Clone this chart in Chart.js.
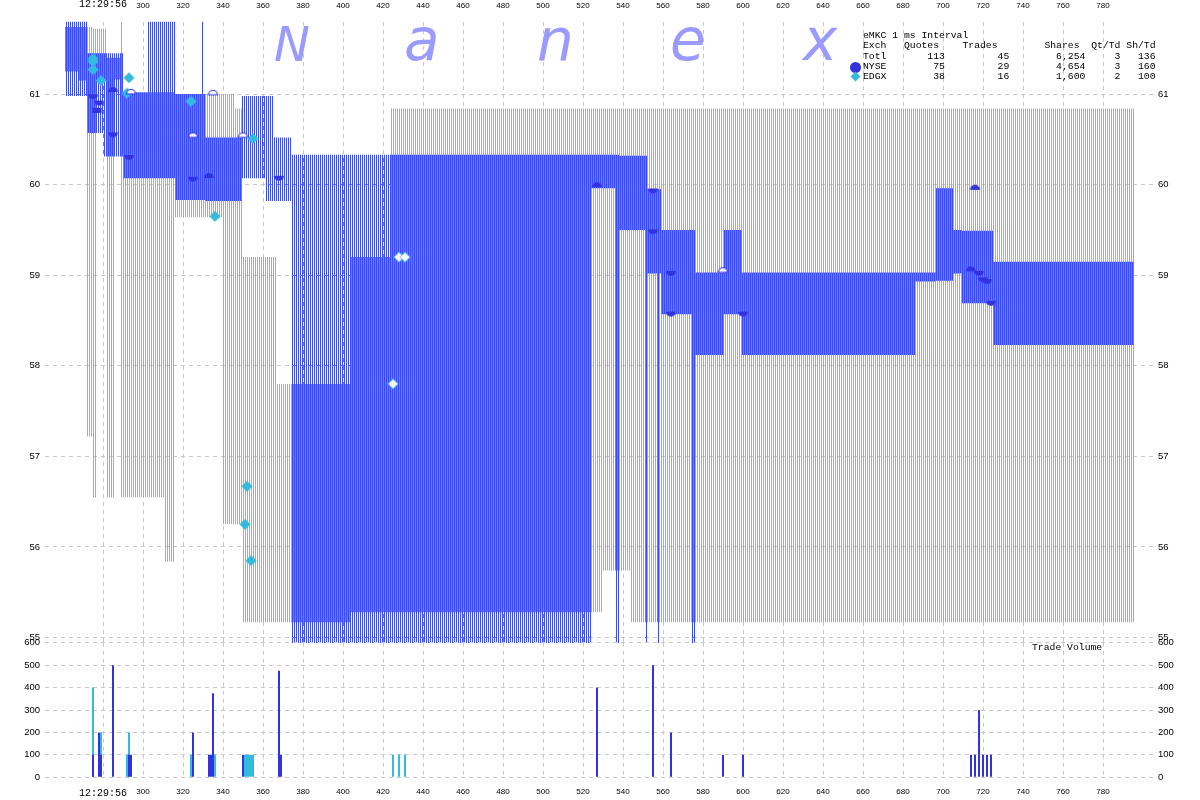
<!DOCTYPE html>
<html lang="en">
<head>
<meta charset="UTF-8">
<title>eMKC 1 ms Interval</title>
<style>
    html, body { margin: 0; padding: 0; background: #fff; }
    #wrap { position: relative; width: 1200px; height: 800px; overflow: hidden; }
    #priceChart { position: absolute; left: 0; top: 0; }
    #volChart { position: absolute; left: 0; top: 630px; }
    .logo { position: absolute; font-family: "DejaVu Sans", sans-serif; font-style: italic; color: #9b9bff; line-height: 1; }
    .mono { position: absolute; font-family: "Liberation Mono", monospace; font-size: 9.75px; line-height: 10.3px; white-space: pre; color: #000; }
    .dot { position: absolute; width: 11px; height: 11px; border-radius: 50%; background: #3333dd; }
    .dia { position: absolute; width: 7px; height: 7px; background: #33bbdd; transform: rotate(45deg); }
</style>
<script src="https://cdn.jsdelivr.net/npm/chart.js@4.4.0/dist/chart.umd.min.js"></script>
</head>
<body>
<div id="wrap">
    <canvas id="priceChart" width="1200" height="650"></canvas>
    <canvas id="volChart" width="1200" height="170"></canvas>

    <!-- watermark -->
    <span class="logo" style="left:274px; top:20px; font-size:48px;">N</span>
    <span class="logo" style="left:404px; top:11px; font-size:58px;">a</span>
    <span class="logo" style="left:537px; top:11px; font-size:58px;">n</span>
    <span class="logo" style="left:670px; top:11px; font-size:58px;">e</span>
    <span class="logo" style="left:803px; top:11px; font-size:58px;">x</span>

    <div class="mono" id="stats" style="left:863px; top:31px;"></div>
    <div class="dot" style="left:850px; top:62px;"></div>
    <div class="dia" style="left:852px; top:73px;"></div>
    <div class="mono" style="left:1032px; top:643px;">Trade Volume</div>
</div>

<script>
    // x axis: ms after 12:29:56
    const xTicks = [280, 300, 320, 340, 360, 380, 400, 420, 440, 460, 480, 500, 520, 540, 560, 580, 600, 620, 640, 660, 680, 700, 720, 740, 760, 780];
    const xFirstLabel = '12:29:56';
    const priceTicks = [55, 56, 57, 58, 59, 60, 61];
    const volTicks = [0, 100, 200, 300, 400, 500, 600];

    // NYSE quote (each value holds until the next time)
    const nyseT   = [261, 272, 280, 290, 302.5, 316, 329.5, 330.5, 331, 349.5, 361.5, 365, 374.5, 524, 536, 538, 551, 552, 557, 558, 559, 574.5, 576, 590.5, 599.5, 686, 696.5, 705, 709.5, 725, 795.5];
    const nyseAsk = [62, 61.45, 61.45, 61.02, 62, 61.0, 62, 61.0, 60.52, 60.98, 60.98, 60.52, 60.33, 60.33, 60.33, 60.32, 60.32, 59.95, 59.95, 59.95, 59.5, 59.5, 59.03, 59.5, 59.03, 59.03, 59.96, 59.5, 59.49, 59.15, 59.15];
    const nyseBid = [60.98, 60.57, 60.31, 60.07, 60.07, 59.83, 59.83, 59.83, 59.82, 60.07, 59.82, 59.82, 54.5, 59.96, 54.5, 59.5, 54.5, 59.02, 54.5, 59.02, 58.57, 54.5, 58.12, 58.57, 58.12, 58.93, 58.94, 59.02, 58.69, 58.23, 58.23];

    // EDGX quote
    const edgxT   = [261, 268, 271.5, 274.5, 276.5, 282, 285.5, 289, 290, 311, 316, 339.5, 346, 350, 367, 403.5, 424, 529.5, 544, 795.5];
    const edgxAsk = [61.74, 61.74, 61.74, 61.72, 61.72, 61.4, 61.4, 62, 61.02, 61.02, 61.0, 61.0, 60.84, 59.2, 57.8, 59.2, 60.84, 60.84, 60.84, 60.84];
    const edgxBid = [61.25, 61.15, 57.22, 56.55, 61.15, 56.55, 61.16, 56.55, 56.55, 55.84, 59.64, 56.25, 56.25, 55.17, 55.17, 55.28, 55.28, 55.74, 55.17, 55.17];

    // trades: b = at bid, d = at ask, o = open marker
    const nyseTradeT    = [275, 278, 277, 277, 285, 285, 293, 294, 325, 325, 333, 335, 350, 368, 527, 555, 555, 564, 564, 590, 600, 714, 716, 718, 720, 722, 724];
    const nyseTradeP    = [60.97, 60.90, 60.82, 60.82, 61.05, 60.55, 60.30, 61.03, 60.06, 60.55, 60.10, 61.02, 60.55, 60.07, 60.00, 59.93, 59.48, 59.02, 58.57, 59.06, 58.57, 59.07, 59.97, 59.02, 58.95, 58.93, 58.69];
    const nyseTradeKind = ['b', 'b', 'b', 'd', 'd', 'b', 'b', 'o', 'b', 'o', 'd', 'o', 'o', 'b', 'd', 'b', 'b', 'b', 'b', 'o', 'b', 'd', 'd', 'b', 'b', 'b', 'b'];
    const edgxTradeT    = [275, 275, 275, 279, 292, 293, 324, 336, 351, 352, 354, 355, 425, 428, 431];
    const edgxTradeP    = [61.39, 61.36, 61.27, 61.15, 61.01, 61.18, 60.92, 59.65, 56.25, 56.67, 55.85, 60.51, 57.80, 59.20, 59.20];
    const edgxTradeKind = ['c', 'c', 'c', 'c', 'c', 'c', 'c', 'c', 'c', 'c', 'c', 'c', 'w', 'w', 'w'];

    // trade volume per ms
    const nyseVolT = [275, 278, 279, 285, 293, 294, 325, 333, 334, 335, 350, 368, 369, 527, 555, 564, 590, 600, 714, 716, 718, 720, 722, 724];
    const nyseVol  = [100, 200, 100, 500, 100, 100, 200, 100, 100, 375, 100, 475, 100, 400, 500, 200, 100, 100, 100, 100, 300, 100, 100, 100];
    const edgxVolT = [275, 279, 292, 293, 324, 336, 351, 352, 353, 354, 355, 425, 428, 431];
    const edgxVol  = [400, 200, 100, 200, 100, 100, 100, 100, 100, 100, 100, 100, 100, 100];

    // stats box
    const exchNames   = ['Totl', 'NYSE', 'EDGX'];
    const quoteCounts = [113, 75, 38];
    const tradeCounts = [45, 29, 16];
    const shareCounts = [6254, 4654, 1600];
    const qtPerTd     = [3, 3, 2];
    const shPerTd     = [136, 160, 100];

    let rows = ['eMKC 1 ms Interval',
        'Exch' + 'Quotes'.padStart(9) + 'Trades'.padStart(10) + 'Shares'.padStart(14) + 'Qt/Td'.padStart(7) + 'Sh/Td'.padStart(6)];
    exchNames.forEach((n, i) => {
        rows.push(n.padEnd(4) + String(quoteCounts[i]).padStart(10) + String(tradeCounts[i]).padStart(11) +
            shareCounts[i].toLocaleString('en-US').padStart(13) + String(qtPerTd[i]).padStart(6) + String(shPerTd[i]).padStart(6));
    });
    document.getElementById('stats').textContent = rows.join('\n');

    const NYSE_QUOTE = '#3a4bff';
    const NYSE_MIX = '#4a8cff';
    const EDGX_QUOTE = '#5ec6e6';
    const NYSE_TRADE = '#3333dd';
    const EDGX_TRADE = '#33bbdd';

    const priceCanvas = document.getElementById('priceChart');
    const pctx = priceCanvas.getContext('2d');

    // 1px vertical stripes every 2px, one column per exchange
    function stripes(color, column) {
        const tile = document.createElement('canvas');
        tile.width = 2; tile.height = 1;
        const g = tile.getContext('2d');
        g.fillStyle = color;
        g.fillRect(column, 0, 1, 1);
        return pctx.createPattern(tile, 'repeat');
    }

    function markerImg(draw) {
        const c = document.createElement('canvas');
        c.width = 13; c.height = 13;
        draw(c.getContext('2d'));
        return c;
    }
    const bowl = markerImg(g => {
        g.fillStyle = NYSE_TRADE; g.beginPath(); g.arc(6.5, 4, 5, 0, Math.PI); g.closePath(); g.fill();
    });
    const dome = markerImg(g => {
        g.fillStyle = NYSE_TRADE; g.beginPath(); g.arc(6.5, 9, 5, Math.PI, 2 * Math.PI); g.closePath(); g.fill();
    });
    const openDome = markerImg(g => {
        g.fillStyle = '#fff'; g.strokeStyle = NYSE_TRADE; g.lineWidth = 1.2;
        g.beginPath(); g.arc(6.5, 9, 4.5, Math.PI, 2 * Math.PI); g.closePath(); g.fill(); g.stroke();
    });
    function diamond(fill) {
        return markerImg(g => {
            g.fillStyle = fill; g.strokeStyle = EDGX_TRADE; g.lineWidth = 1;
            g.beginPath(); g.moveTo(6.5, 1.5); g.lineTo(11.5, 6.5); g.lineTo(6.5, 11.5); g.lineTo(1.5, 6.5); g.closePath();
            g.fill(); g.stroke();
        });
    }
    const cyanDiamond = diamond(EDGX_TRADE);
    const whiteDiamond = diamond('#fff');

    const pts = (ts, vs) => ts.map((t, i) => ({ x: t, y: vs[i] }));
    const pick = (ts, ps, kinds, k) => ts.map((t, i) => ({ x: t, y: ps[i], k: kinds[i] })).filter(p => p.k === k);

    const quoteLine = { stepped: true, borderWidth: 0, borderColor: 'rgba(0,0,0,0)', pointRadius: 0, pointHoverRadius: 0 };
    const tradePoints = { showLine: false, pointRadius: 6, pointHoverRadius: 6, order: 0 };

    // NYSE/EDGX overlap: paint the empty column only where EDGX already drew
    const blendPlugin = {
        id: 'blend',
        afterDatasetDraw(chart, args) {
            const ds = chart.data.datasets[args.index];
            if (ds.blendAfter) chart.ctx.globalCompositeOperation = ds.blendAfter;
        }
    };

    const gridDash = { display: false, dash: [4, 4] };
    const tickFont = { family: 'Liberation Sans', size: 9.5 };

    function xScale(position, height, pad) {
        return {
            type: 'linear', position: position, min: 251, max: 805, offset: false,
            afterBuildTicks: s => { s.ticks = xTicks.map(v => ({ value: v })); },
            afterFit: s => { s.height = height; s.paddingLeft = 0; s.paddingRight = 0; },
            grid: { color: '#c8c8c8', drawTicks: false, offset: false },
            border: gridDash,
            ticks: {
                padding: pad, maxRotation: 0, autoSkip: false, color: '#000',
                font: c => (c.tick && c.tick.value === xTicks[0]) ? { family: 'Liberation Mono', size: 10 } : { family: 'Liberation Sans', size: 8 },
                callback: v => v === xTicks[0] ? xFirstLabel : String(v)
            }
        };
    }
    function yScale(position, min, max, ticks, width, grid) {
        return {
            type: 'linear', position: position, min: min, max: max,
            afterBuildTicks: s => { s.ticks = ticks.map(v => ({ value: v })); },
            afterFit: s => { s.width = width; s.paddingTop = 0; s.paddingBottom = 0; },
            grid: { display: grid, color: '#c8c8c8', drawTicks: false },
            border: gridDash,
            ticks: { padding: 5, color: '#000', font: tickFont }
        };
    }

    new Chart(pctx, {
        type: 'line',
        data: {
            datasets: [
                { label: 'EDGX ask', data: pts(edgxT, edgxAsk), order: 10, ...quoteLine },
                { label: 'EDGX bid', data: pts(edgxT, edgxBid), order: 9, fill: '-1', backgroundColor: stripes(EDGX_QUOTE, 1), ...quoteLine },
                { label: 'NYSE ask', data: pts(nyseT, nyseAsk), order: 8, ...quoteLine },
                { label: 'NYSE bid', data: pts(nyseT, nyseBid), order: 7, fill: '-1', backgroundColor: stripes(NYSE_QUOTE, 0), ...quoteLine },
                { label: 'NYSE ask overlap', data: pts(nyseT, nyseAsk), order: 6, blendAfter: 'source-atop', ...quoteLine },
                { label: 'NYSE bid overlap', data: pts(nyseT, nyseBid), order: 5, blendAfter: 'source-over', fill: '-1', backgroundColor: stripes(NYSE_MIX, 1), ...quoteLine },
                { label: 'NYSE trade bid', data: pick(nyseTradeT, nyseTradeP, nyseTradeKind, 'b'), pointStyle: bowl, ...tradePoints },
                { label: 'NYSE trade ask', data: pick(nyseTradeT, nyseTradeP, nyseTradeKind, 'd'), pointStyle: dome, ...tradePoints },
                { label: 'NYSE trade other', data: pick(nyseTradeT, nyseTradeP, nyseTradeKind, 'o'), pointStyle: openDome, ...tradePoints },
                { label: 'EDGX trade', data: pick(edgxTradeT, edgxTradeP, edgxTradeKind, 'c'), pointStyle: cyanDiamond, ...tradePoints },
                { label: 'EDGX trade inside', data: pick(edgxTradeT, edgxTradeP, edgxTradeKind, 'w'), pointStyle: whiteDiamond, ...tradePoints }
            ]
        },
        options: {
            responsive: false, animation: false, events: [],
            layout: { padding: { left: 0, right: 0, top: 0, bottom: 2.6 } },
            plugins: { legend: { display: false }, tooltip: { enabled: false } },
            scales: {
                x: xScale('top', 21.6, 11),
                y: yScale('left', 54.94, 61.8, priceTicks, 45, true),
                y2: yScale('right', 54.94, 61.8, priceTicks, 47, false)
            }
        },
        plugins: [blendPlugin]
    });

    new Chart(document.getElementById('volChart').getContext('2d'), {
        type: 'bar',
        data: {
            datasets: [
                { label: 'NYSE', data: pts(nyseVolT, nyseVol), backgroundColor: NYSE_TRADE, order: 0 },
                { label: 'EDGX', data: pts(edgxVolT, edgxVol), backgroundColor: EDGX_TRADE, order: 1 }
            ]
        },
        options: {
            responsive: false, animation: false, events: [],
            layout: { padding: { left: 0, right: 0, top: 12.7, bottom: 0 } },
            datasets: { bar: { barThickness: 2, grouped: false, inflateAmount: 0, borderWidth: 0 } },
            plugins: { legend: { display: false }, tooltip: { enabled: false } },
            scales: {
                x: xScale('bottom', 22.7, 10),
                y: yScale('left', 0, 600, volTicks, 45, true),
                y2: yScale('right', 0, 600, volTicks, 47, false)
            }
        }
    });
</script>
</body>
</html>
